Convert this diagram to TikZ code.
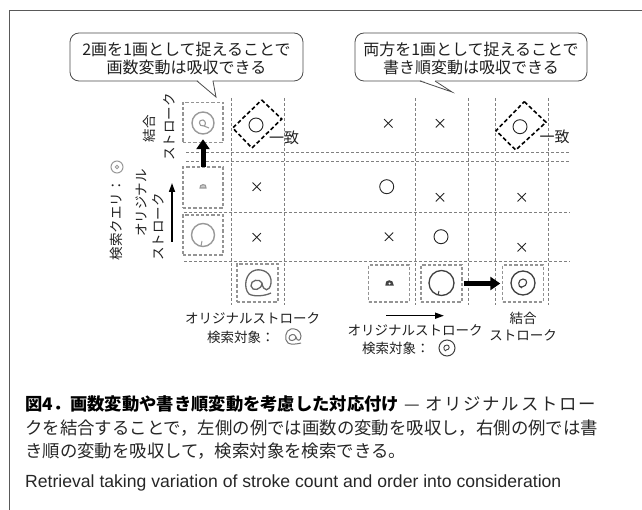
\documentclass[tikz,border=0pt]{standalone}
\usepackage{fontspec}
\setmainfont{Liberation Sans}
\newfontfamily\jp{Noto Sans CJK JP}
\usetikzlibrary{arrows.meta}
\newcommand{\kgap}{\hspace{1.7pt}}
\begin{document}
\begin{tikzpicture}[x=1pt,y=-1pt,
  gridline/.style={draw=black!50, line width=0.7pt, dash pattern=on 3pt off 2pt},
  sbox/.style={draw=black!42, line width=1.4pt, dash pattern=on 3.2pt off 2pt, minimum width=40pt, minimum height=40pt, inner sep=0pt},
  diam/.style={draw=black, line width=1.6pt, dash pattern=on 4pt off 2.5pt},
  lbl/.style={font=\jp\fontsize{13.5}{15}\selectfont, inner sep=0pt, text=black!88},
  cotext/.style={font=\jp\fontsize{16}{17.5}\selectfont, inner sep=0pt, align=center, text=black!88},
  callout/.style={draw=black!70, line width=0.8pt, fill=white},
  symb/.style={draw=black!85, line width=0.9pt},
  caption/.style={font=\jp\fontsize{17.4}{22}\selectfont, inner sep=0pt, anchor=west, text=black!85},
  thickarrow/.style={line width=5pt, -{Triangle[width=13pt,length=10pt]}},
  thinarrow/.style={line width=1.6pt, -{Triangle[width=6pt,length=9pt]}},
  icl/.style={draw=black!40, line width=1.4pt},
  icd/.style={draw=black!75, line width=1.3pt}
]
\useasboundingbox (0,0) rectangle (642,510);
% frame
\draw[black!65, line width=0.9pt] (9,510) -- (9,10) -- (642,10);

% grid lines
\draw[gridline] (186,152) -- (570,152);
\draw[gridline] (186,161) -- (570,161);
\draw[gridline] (184,212) -- (570,212);
\draw[gridline] (184,261) -- (570,261);
\foreach \x in {231,284,415,468,495,548}{
  \draw[gridline] (\x,98) -- (\x,305);
}

% callouts
\draw[callout, rounded corners=9pt] (70,33) rectangle (303,81);
\fill[white] (197.5,80) -- (216,97) -- (212.5,80) -- cycle;
\draw[black!70, line width=0.8pt] (197,81) -- (216,97) -- (213,81);
\node[cotext] (co1) at (186.5,58.5) {2画を1画として捉えることで\\画数変動は吸収できる};

\draw[callout, rounded corners=9pt] (355,33) rectangle (587,81);
\fill[white] (420.5,80) -- (452,92) -- (434.5,80) -- cycle;
\draw[black!70, line width=0.8pt] (420,81) -- (452,92) -- (435,81);
\node[cotext] (co2) at (471,58.5) {両方を1画として捉えることで\\書き順変動は吸収できる};

% stroke boxes
\node[sbox] (cL1) at (203,122.5) {};
\node[sbox, minimum height=41pt] (cL2) at (203,187.5) {};
\node[sbox] (cL3) at (203,235) {};
\node[sbox, minimum width=41pt, minimum height=38pt] (bL) at (257.5,283) {};
\node[sbox, minimum width=41pt, minimum height=37pt] (bR1) at (389,283.5) {};
\node[sbox, minimum width=41pt, minimum height=37pt] (bR2) at (441.5,283.5) {};
\node[sbox, minimum width=41pt, minimum height=37pt] (bR3) at (523,283.5) {};

% icons (hand-drawn strokes)
\draw[icl] (203,123) circle (11);
\draw[icl, line width=1.1pt] (204,126) .. controls (198,127) and (198,119) .. (203,120) .. controls (206,121) and (206,125) .. (204,126) -- (209,128);
\draw[icl, line width=1.1pt, fill=black!20] (200,188) .. controls (199,184) and (207,183) .. (206,188) -- cycle;
\draw[icl] (203,235) circle (11.5);
\draw[icl, line width=1pt] (201,246) -- (202,241);
% @ icon
\draw[icd, draw=black!60] (262,283) .. controls (262,290) and (252,292) .. (251,286) .. controls (250,280) and (260,278) .. (262,283)
  .. controls (263,292) and (270,292) .. (271,283) .. controls (272,272) and (262,269) .. (256,270)
  .. controls (245,272) and (243,288) .. (249,294) .. controls (254,297) and (265,296) .. (271,293);
% right bottom icons
\draw[icd, line width=1.2pt, fill=black!70] (386,285) .. controls (385,280) and (393,279) .. (393,285) -- cycle;
\fill[white] (389.5,283.6) circle (1.1);
\draw[icd] (441.5,283) circle (12.5);
\draw[icd, line width=1pt] (438,295) -- (439,291);
\draw[icd] (523,283) circle (12);
\draw[icd, line width=1.1pt] (522,288) .. controls (517,287) and (518,279) .. (523,279) .. controls (528,279) and (528,286) .. (522,287) -- (519,286);
% query icon
\draw[icl, line width=1pt] (117,167) circle (6);
\draw[icl, line width=0.8pt] (117,167) circle (1.8);

% arrows
\draw[thickarrow] ([yshift=-1pt]cL2.north) -- ([yshift=4pt]cL1.south);
\draw[thickarrow] ([xshift=1.5pt]bR2.east) -- ([xshift=-1.5pt]bR3.west);
\coordinate (ta1) at (172,242);
\coordinate (ta2) at (172,183);
\draw[thinarrow] (ta1) -- (ta2);
\coordinate (tb1) at (386,315.7);
\coordinate (tb2) at (444,315.7);
\draw[thinarrow] (tb1) -- (tb2);

% diamonds
\draw[diam] (261.7,100) -- (281.7,119) -- (252,148) -- (232.7,128) -- cycle;
\draw[diam] (524.3,101.7) -- (546,122.3) -- (515.7,150) -- (496,130.7) -- cycle;
\draw[symb] (256,125) circle (7);
\draw[symb] (520,126.7) circle (7);
\node[lbl, font=\jp\fontsize{15}{17}\selectfont, anchor=west] (m1) at (269,137.5) {一致};
\node[lbl, font=\jp\fontsize{15}{17}\selectfont, anchor=west] (m2) at (539.5,137.3) {一致};

% other circles
\draw[symb] (386.7,186.7) circle (7);
\draw[symb] (441,236.7) circle (7);
% crosses
\foreach \p in {(256.7,186.7),(256.7,237.3),(388.3,123.3),(440,123.3),(440,197.3),(521.7,197.3),(389,236.7),(521.7,247.3)}{
  \draw[symb] \p ++(-4.2,-4.2) -- ++(8.4,8.4);
  \draw[symb] \p ++(-4.2,4.2) -- ++(8.4,-8.4);
}

% vertical labels
\node[lbl, rotate=90] (v1) at (149,129) {結合};
\node[lbl, rotate=90] (v2) at (169,127) {ストローク};
\node[lbl, rotate=90] (v3) at (141,203) {オリジナル};
\node[lbl, rotate=90] (v4) at (158,227) {ストローク};
\node[lbl, rotate=90] (v5) at (116,220) {検索クエリ：};

% bottom labels
\node[lbl] (b1) at (252.5,318) {オリジナルストローク};
\node[lbl, anchor=west] (b2) at (207,337) {検索対象：};
\draw[icd, draw=black!55, line width=1pt] (296,337) .. controls (296,341) and (289,342) .. (289,338) .. controls (289,334) and (295,333) .. (296,337)
  .. controls (297,342) and (301,341) .. (301,336) .. controls (301,330) and (294,328) .. (291,329)
  .. controls (285,330) and (284,340) .. (288,343) .. controls (291,345) and (297,344) .. (301,343);
\node[lbl] (b3) at (415,330) {オリジナルストローク};
\node[lbl, anchor=west] (b4) at (362,348) {検索対象：};
\draw[icd, line width=1pt] (447,348) circle (8);
\draw[icd, line width=0.9pt] (446,351) .. controls (443,350) and (443,345) .. (447,345) .. controls (450,345) and (450,350) .. (446,350);
\node[lbl] (b5) at (523,318) {結合};
\node[lbl] (b6) at (523,335) {ストローク};

% caption
\node[caption] (c1) at (25,404) {{\bfseries\color{black}\fontsize{17.3}{22}\selectfont 図4．画数変動や書き順変動を考慮した対応付け}\hspace{5pt}—\hspace{6pt}オ\kgap リ\kgap ジ\kgap ナ\kgap ル\kgap ス\kgap ト\kgap ロ\kgap ー};
\node[caption] (c2) at (25,428) {クを結合することで，左側の例では画数の変動を吸収し，右側の例では書};
\node[caption] (c3) at (25,451.5) {き順の変動を吸収して，検索対象を検索できる。};
\node[caption, font=\fontsize{17.6}{22}\selectfont] (c4) at (25,483) {Retrieval taking variation of stroke count and order into consideration};
\end{tikzpicture}
\end{document}
